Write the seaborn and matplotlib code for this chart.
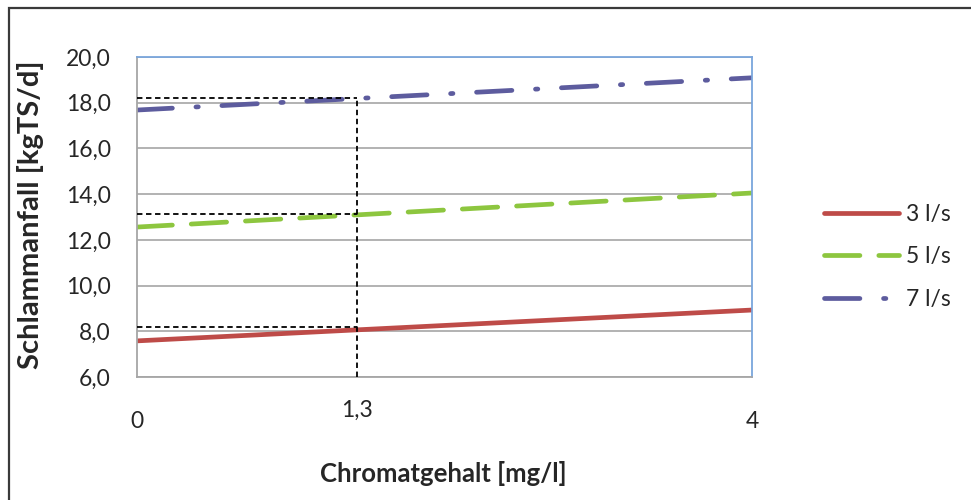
import numpy as np
import pandas as pd
import matplotlib
matplotlib.use('Agg')
import matplotlib.pyplot as plt
import matplotlib.patches as mpatches
from matplotlib.lines import Line2D
import seaborn as sns

# data
chromat = [0, 4]
series_names = ['3 l/s', '5 l/s', '7 l/s']
sludge_3 = [7.58, 8.93]
sludge_5 = [12.56, 14.05]
sludge_7 = [17.68, 19.09]

# reading lines (position of the 1,3 marker on the axis as drawn)
marker_x = 1.43
marker_label = '1,3'
read_values = [8.19, 13.13, 18.2]

y_ticks = [6, 8, 10, 12, 14, 16, 18, 20]

colors = ['#BE4B48', '#8DC63F', '#5D5C9E']

df = pd.DataFrame({
    'x': chromat * 3,
    'y': sludge_3 + sludge_5 + sludge_7,
    'serie': [s for s in series_names for _ in chromat],
})

sns.set_style('white')
plt.rcParams['font.family'] = ['Lato', 'DejaVu Sans']

fig = plt.figure(figsize=(9.71, 5.0), dpi=100)
ax = fig.add_axes([137 / 971, 1 - 377 / 500, 615 / 971, 320 / 500])

# outer frame of the chart object
fig.patches.append(mpatches.Rectangle((9 / 971, -0.1), 1.2, 1 - 8 / 500 + 0.1,
                                      transform=fig.transFigure, fill=False,
                                      edgecolor='#3a3a3a', linewidth=1.6))

lw = 3.4
dash_5 = (7.5, 4)
dash_7 = (7.5, 5, 0.5, 5)
sns.lineplot(data=df, x='x', y='y', hue='serie', palette=colors, ax=ax,
             linewidth=lw, legend=False)
lines = ax.get_lines()
lines[1].set_dashes(dash_5)
lines[2].set_dashes(dash_7)
for ln in lines:
    ln.set_dash_capstyle('round')
    ln.set_solid_capstyle('butt')

# dashed reading lines
for v in read_values:
    ax.plot([0, marker_x], [v, v], color='black', linestyle=(0, (3, 2)), linewidth=1.3, zorder=4)
ax.plot([marker_x, marker_x], [6, max(read_values)], color='black', linestyle=(0, (3, 2)),
        linewidth=1.3, zorder=4, clip_on=False)

ax.set_xlim(0, 4)
ax.set_ylim(6, 20)
ax.set_xlabel('')
ax.set_ylabel('')
ax.set_yticks(y_ticks)
ax.set_yticklabels([f'{t:.1f}'.replace('.', ',') for t in y_ticks], fontsize=16.5)
ax.tick_params(axis='y', length=0, pad=19)
ax.set_xticks([])
ax.grid(axis='y', color='#a6a6a6', linewidth=1.2)
ax.set_axisbelow(True)

ax.spines['left'].set_color('#a6a6a6')
ax.spines['bottom'].set_color('#a6a6a6')
ax.spines['top'].set_color('#7aa6dc')
ax.spines['right'].set_color('#7aa6dc')
for s in ax.spines.values():
    s.set_linewidth(1.3)

# x tick labels, as placed in the original
ax.text(0, -0.14, '0', transform=ax.get_xaxis_transform(), ha='center', va='center', fontsize=16.5)
ax.text(4, -0.14, '4', transform=ax.get_xaxis_transform(), ha='center', va='center', fontsize=16.5)
ax.text(marker_x, -0.105, marker_label, transform=ax.get_xaxis_transform(), ha='center',
        va='center', fontsize=16.5)

fig.text(443 / 971, 1 - 474 / 500, 'Chromatgehalt [mg/l]', ha='center', va='center',
         fontsize=18.5, fontweight='bold')
fig.text(31 / 971, 1 - 215 / 500, 'Schlammanfall [kgTS/d]', ha='center', va='center',
         rotation=90, fontsize=21, fontweight='bold')

handles = [
    Line2D([], [], color=colors[0], linewidth=lw),
    Line2D([], [], color=colors[1], linewidth=lw, dashes=dash_5, dash_capstyle='round'),
    Line2D([], [], color=colors[2], linewidth=lw, dashes=dash_7, dash_capstyle='round'),
]
fig.legend(handles, series_names, loc='center left', bbox_to_anchor=(803 / 971, 1 - 257 / 500),
           frameon=False, fontsize=16.5, handlelength=3.3, handletextpad=0.3, labelspacing=0.95)

fig.savefig('out.png', dpi=100)
